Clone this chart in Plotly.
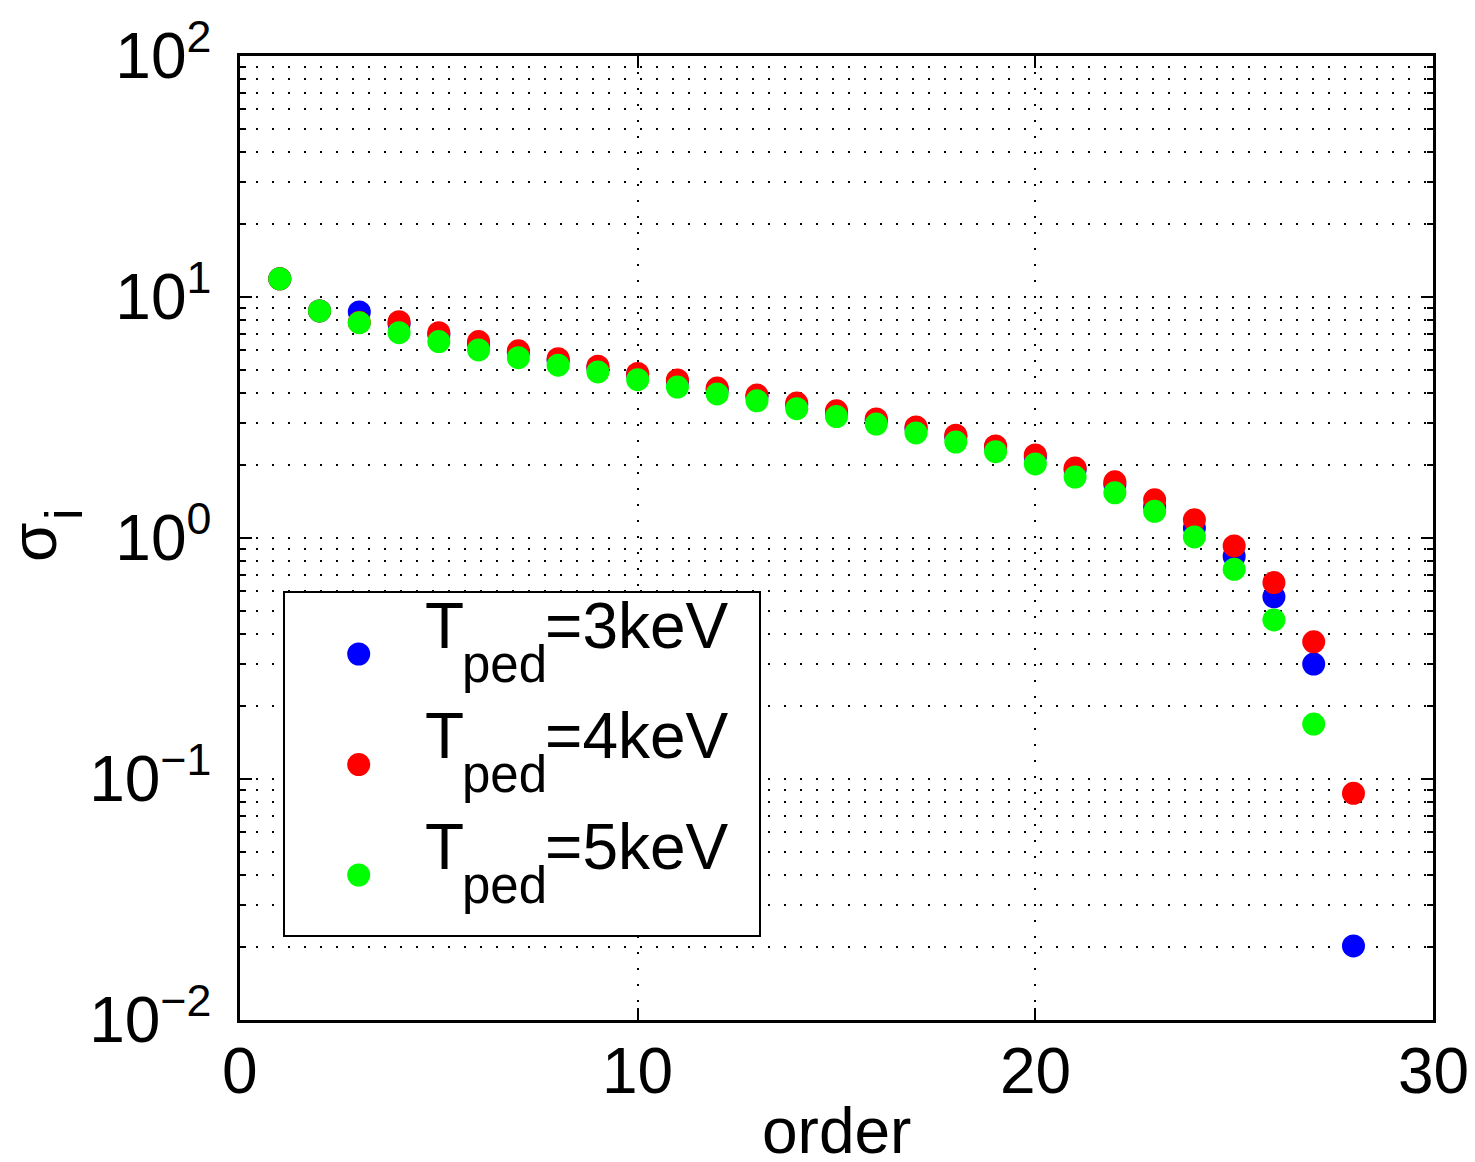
import plotly.graph_objects as go

# ---------------- data ----------------
order_3 = list(range(1, 29))
sigma_3 = [11.9, 8.75, 8.67, 7.75, 7.0, 6.42, 5.9, 5.47, 5.09, 4.75,
           4.46, 4.13, 3.87, 3.58, 3.32, 3.08, 2.85, 2.63, 2.38, 2.17,
           1.92, 1.67, 1.35, 1.10, 0.84, 0.57, 0.30, 0.0203]

order_4 = list(range(1, 29))
sigma_4 = [11.9, 8.75, 7.85, 7.9, 7.11, 6.53, 5.98, 5.55, 5.16, 4.82,
           4.53, 4.19, 3.92, 3.63, 3.37, 3.12, 2.89, 2.67, 2.41, 2.21,
           1.95, 1.71, 1.44, 1.19, 0.927, 0.653, 0.371, 0.0872]

order_5 = list(range(1, 28))
sigma_5 = [11.9, 8.75, 7.82, 7.11, 6.53, 6.03, 5.6, 5.21, 4.89, 4.54,
           4.23, 3.96, 3.71, 3.44, 3.19, 2.97, 2.73, 2.50, 2.28, 2.03,
           1.79, 1.54, 1.29, 1.01, 0.741, 0.457, 0.169]

series_names = ["3keV", "4keV", "5keV"]
series_colors = ["#0000ff", "#ff0000", "#00ff00"]

x_ticks = [0, 10, 20, 30]
x_tick_text = ["0", "10", "20", "30"]
y_tick_vals = [1e-2, 1e-1, 1e0, 1e1, 1e2]
y_tick_text = ["10<sup>\u22122</sup>", "10<sup>\u22121</sup>", "10<sup>0</sup>",
               "10<sup>1</sup>", "10<sup>2</sup>"]
y_minor_vals = [m * 10.0 ** e for e in range(-2, 2) for m in range(2, 10)]

FONT = "Liberation Sans, Arial, Helvetica, sans-serif"
FS = 64
W, H = 1475, 1162
L, R, T, B = 240, 42, 56, 142
PW, PH = W - L - R, H - T - B


def px_x(p):
    return (p - L) / PW


def px_y(p):
    return (H - B - p) / PH


fig = go.Figure()
for xs, ys, c, n in [(order_3, sigma_3, series_colors[0], series_names[0]),
                     (order_4, sigma_4, series_colors[1], series_names[1]),
                     (order_5, sigma_5, series_colors[2], series_names[2])]:
    fig.add_trace(go.Scatter(x=xs, y=ys, mode="markers", name=n,
                             marker=dict(size=23, color=c, line=dict(width=0)),
                             showlegend=False))

grid_dash = "2px,14px"
fig.update_layout(
    width=W, height=H,
    margin=dict(l=L, r=R, t=T, b=B, pad=0, autoexpand=False),
    paper_bgcolor="white", plot_bgcolor="white",
    font=dict(family=FONT, size=FS, color="black"),
    xaxis=dict(range=[0, 30], tickmode="array", tickvals=x_ticks,
               showticklabels=False, automargin=False,
               ticks="inside", ticklen=12, tickwidth=1.5, tickcolor="black",
               showline=True, linewidth=2.5, linecolor="black", mirror="allticks",
               showgrid=True, gridcolor="black", gridwidth=1.5, griddash=grid_dash,
               zeroline=False),
    yaxis=dict(type="log", range=[-2, 2], tickmode="array",
               tickvals=y_tick_vals, ticktext=y_tick_text, automargin=False,
               ticks="inside", ticklen=12, tickwidth=1.5, tickcolor="black",
               showline=True, linewidth=2.5, linecolor="black", mirror="allticks",
               showgrid=True, gridcolor="black", gridwidth=1.5, griddash=grid_dash,
               zeroline=False, ticklabelstandoff=13,
               tickfont=dict(size=FS),
               minor=dict(tickmode="array", tickvals=y_minor_vals,
                          ticks="inside", ticklen=6, tickwidth=1.5, tickcolor="black",
                          showgrid=True, gridcolor="black", gridwidth=1.5,
                          griddash=grid_dash)),
)

shapes = []
annotations = []

# x tick labels placed through the x scale
for v, t in zip(x_ticks, x_tick_text):
    annotations.append(dict(text=t, xref="x", yref="paper", x=v, y=px_y(1071),
                            xanchor="center", yanchor="middle", showarrow=False,
                            font=dict(size=FS)))

# legend box
shapes.append(dict(type="rect", xref="paper", yref="paper",
                   x0=px_x(284), x1=px_x(760), y0=px_y(936), y1=px_y(592),
                   line=dict(color="black", width=2), fillcolor="white", layer="above"))
row_step = 110.5
for i, (n, c) in enumerate(zip(series_names, series_colors)):
    cy = 654 + i * row_step
    cx = 358.7
    r = 11.5
    shapes.append(dict(type="circle", xref="paper", yref="paper",
                       x0=px_x(cx - r), x1=px_x(cx + r),
                       y0=px_y(cy + r), y1=px_y(cy - r),
                       line=dict(width=0), fillcolor=c, layer="above"))
    ty = 626 + i * row_step
    sy = 664 + i * row_step
    annotations.append(dict(text="T", xref="paper", yref="paper",
                            x=px_x(423), y=px_y(ty), xanchor="left", yanchor="middle",
                            showarrow=False, font=dict(size=FS)))
    annotations.append(dict(text="ped", xref="paper", yref="paper",
                            x=px_x(460), y=px_y(sy), xanchor="left", yanchor="middle",
                            showarrow=False, font=dict(size=51)))
    annotations.append(dict(text="=" + n, xref="paper", yref="paper",
                            x=px_x(543), y=px_y(ty), xanchor="left", yanchor="middle",
                            showarrow=False, font=dict(size=FS)))

# axis titles
annotations.append(dict(text="order", xref="paper", yref="paper",
                        x=0.5, y=px_y(1155), xanchor="center", yanchor="bottom",
                        yshift=-14, showarrow=False, font=dict(size=FS)))
annotations.append(dict(text="\u03c3", xref="paper", yref="paper",
                        x=px_x(34), y=px_y(542), xanchor="center", yanchor="middle",
                        textangle=-90, showarrow=False, font=dict(size=FS)))
annotations.append(dict(text="i", xref="paper", yref="paper",
                        x=px_x(64), y=px_y(515), xanchor="center", yanchor="middle",
                        textangle=-90, showarrow=False, font=dict(size=51)))

fig.update_layout(shapes=shapes, annotations=annotations)
fig.write_html("out.html")
